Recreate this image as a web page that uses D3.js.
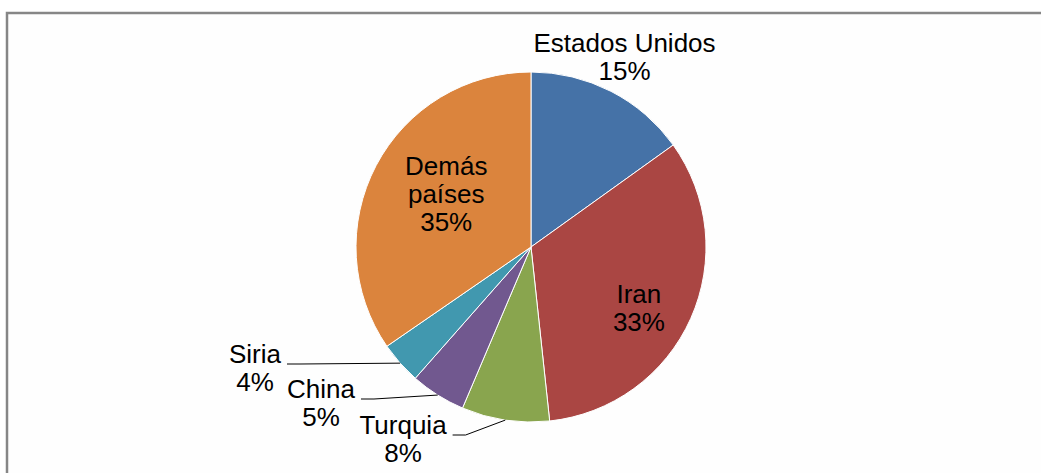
<!DOCTYPE html>
<html lang="es">
  <head>
    <meta charset="utf-8">
    <title>Pie</title>
    <script src="https://cdn.jsdelivr.net/npm/d3@7"></script>
    <style>
      body { margin: 0; background: #ffffff; }
      text {
        font-family: "Liberation Sans", Arial, sans-serif;
        font-size: 26px;
        fill: #000000;
      }
    </style>
  </head>
  <body>
    <script>

        var w = 1041;
        var h = 473;

        // data
        var categories = ["Estados Unidos", "Iran", "Turquia", "China", "Siria", "Demás países"];
        var values = [15.1, 33.2, 8.1, 5.1, 3.9, 34.6];
        var nameLines = [["Estados Unidos"], ["Iran"], ["Turquia"], ["China"], ["Siria"], ["Demás", "países"]];
        var colors = ["#4572A7", "#AA4643", "#89A54E", "#71588F", "#4198AF", "#DB843D"];

        // label placement: radius from centre and angle tweak (degrees); outer = uses leader line
        var labelR = [212, 124, 0, 0, 0, 100];
        var labelShift = [-1, 5.4, 0, 0, 0, 4.3];
        var outerOffset = [null, null, [-128, 192], [-210, 156], [-276, 121], null];

        var cx = 531, cy = 247, radius = 175;
        var lineH = 28;

        var mySvg = d3.select("body")
                      .append("svg")
                      .attr("width", w)
                      .attr("height", h);

        // chart frame (runs off the right / bottom of the picture)
        mySvg.append("rect")
             .attr("x", 7)
             .attr("y", 13)
             .attr("width", 1100)
             .attr("height", 600)
             .attr("fill", "#fefefe")
             .attr("stroke", "#868686")
             .attr("stroke-width", 2.5);

        var data = categories.map(function(c, i) {
          return { name: c, value: values[i], lines: nameLines[i], i: i };
        });

        var pie = d3.pie()
                    .sort(null)
                    .value(function(d) { return d.value; });

        var arcs = pie(data);

        var arc = d3.arc()
                    .innerRadius(0)
                    .outerRadius(radius);

        var g = mySvg.append("g")
                     .attr("transform", "translate(" + cx + "," + cy + ")");

        g.selectAll("path")
         .data(arcs)
         .enter()
         .append("path")
         .attr("d", arc)
         .attr("fill", function(d) { return colors[d.data.i]; })
         .attr("stroke", "#ffffff")
         .attr("stroke-width", 1);

        function pct(v) {
          return Math.round(v) + "%";
        }

        // labels
        arcs.forEach(function(d) {
          var i = d.data.i;
          var lines = d.data.lines.concat([pct(d.data.value)]);
          var mid = (d.startAngle + d.endAngle) / 2;
          var lx, ly;
          if (outerOffset[i]) {
            lx = outerOffset[i][0];
            ly = outerOffset[i][1];
          } else {
            var a = mid + labelShift[i] * Math.PI / 180;
            lx = labelR[i] * Math.sin(a);
            ly = -labelR[i] * Math.cos(a);
          }
          var firstBase = ly - (lines.length - 1) * lineH / 2 + 9;

          var t = g.append("text")
                   .attr("text-anchor", "middle");
          lines.forEach(function(s, k) {
            t.append("tspan")
             .attr("x", lx)
             .attr("y", firstBase + k * lineH)
             .text(s);
          });

          if (outerOffset[i]) {
            // leader line from the first line of the label to the slice edge
            var firstW = t.select("tspan").node().getComputedTextLength();
            var sx = lx + firstW / 2 + 6;
            var sy = firstBase + 1;
            var ex = radius * Math.sin(mid);
            var ey = -radius * Math.cos(mid);
            g.append("path")
             .attr("d", d3.line()([[sx, sy], [sx + 13, sy], [ex, ey]]))
             .attr("fill", "none")
             .attr("stroke", "#000000")
             .attr("stroke-width", 1);
          }
        });

    </script>
  </body>
</html>
